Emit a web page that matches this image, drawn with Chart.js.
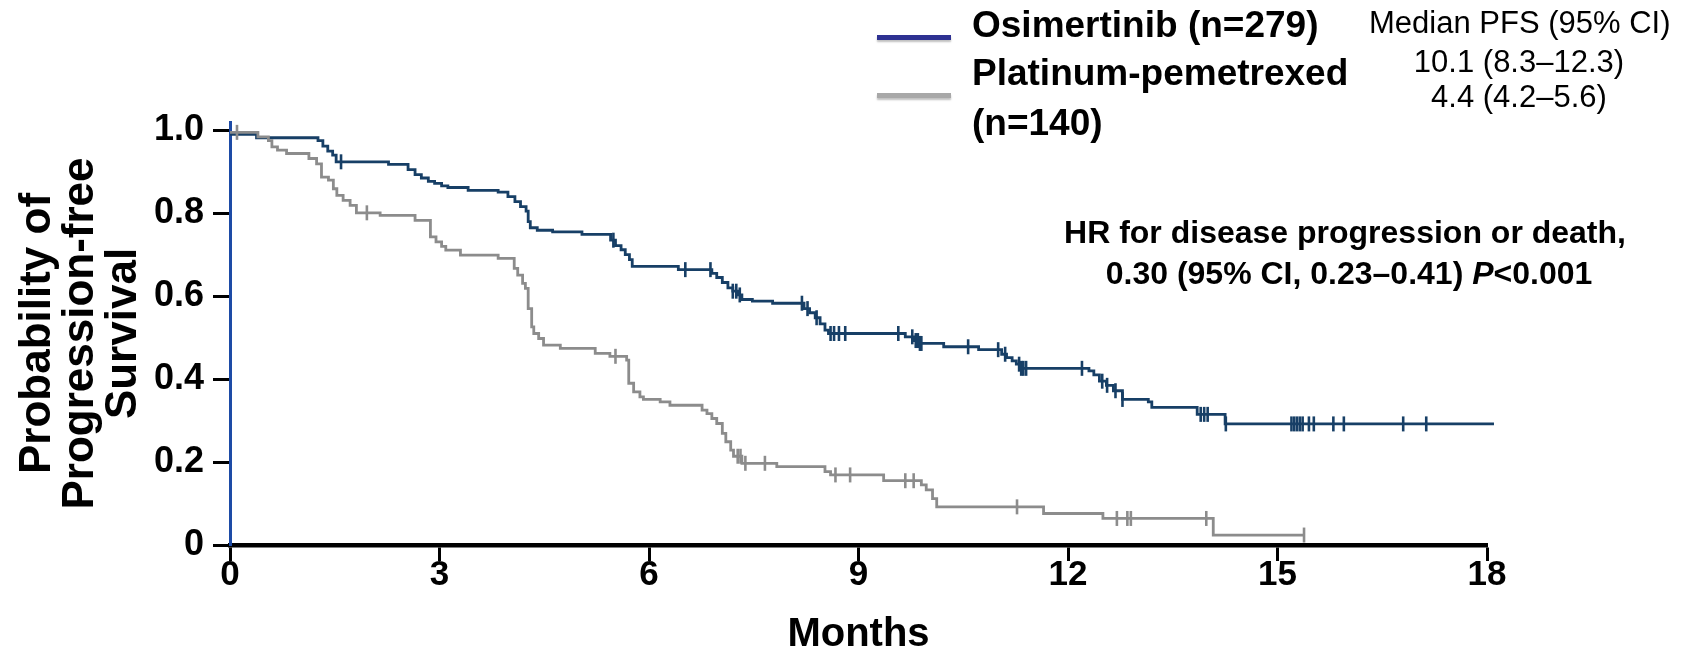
<!DOCTYPE html>
<html>
<head>
<meta charset="utf-8">
<title>PFS Kaplan-Meier</title>
<script src="https://cdn.jsdelivr.net/npm/chart.js@4/dist/chart.umd.min.js"></script>
<style>
    html, body { margin: 0; padding: 0; background: #fff; }
    #wrap { position: relative; width: 1694px; height: 657px; font-family: 'Liberation Sans', Arial, sans-serif; color: #000; }
    #kmChart { position: absolute; left: 0; top: 0; }
    .txt { position: absolute; white-space: nowrap; line-height: 1; }
    .bold { font-weight: bold; }
    .key { position: absolute; height: 5px; width: 74px; left: 877px; box-shadow: 0 2px 2px rgba(0,0,0,0.25); }
</style>
</head>
<body>
<div id="wrap">
    <canvas id="kmChart" width="1694" height="657"></canvas>

    <div class="key" style="top:35px; background:#2e3192;"></div>
    <div class="key" style="top:93px; background:#a8a8a8;"></div>
    <div class="txt bold" style="left:972px; top:6px; font-size:37px;">Osimertinib (n=279)</div>
    <div class="txt bold" style="left:972px; top:54px; font-size:37px;">Platinum-pemetrexed</div>
    <div class="txt bold" style="left:972px; top:104px; font-size:37px;">(n=140)</div>

    <div class="txt" style="left:1369px; width:300px; text-align:center; top:7px; font-size:31px;">Median PFS (95% CI)</div>
    <div class="txt" style="left:1369px; width:300px; text-align:center; top:46px; font-size:31px;">10.1 (8.3–12.3)</div>
    <div class="txt" style="left:1369px; width:300px; text-align:center; top:81px; font-size:31px;">4.4 (4.2–5.6)</div>

    <div class="txt bold" style="left:1045px; width:600px; text-align:center; top:216px; font-size:32px;">HR for disease progression or death,</div>
    <div class="txt bold" style="left:1049px; width:600px; text-align:center; top:257px; font-size:32px;">0.30 (95% CI, 0.23–0.41) <i>P</i>&lt;0.001</div>
</div>

<script>
// Osimertinib KM curve (months, probability of PFS)
const osiMonths = [0, 0.38, 1.26, 1.33, 1.40, 1.47, 1.52, 2.27, 2.55, 2.65, 2.74, 2.84, 2.93, 3.03, 3.12, 3.41,
    3.84, 3.98, 4.08, 4.16, 4.24, 4.27, 4.30, 4.40, 4.62, 5.04, 5.45, 5.52, 5.60, 5.66, 5.72, 5.76,
    6.42, 6.90, 6.97, 7.05, 7.13, 7.20, 7.27, 7.33, 7.48, 7.77, 8.22, 8.30, 8.38, 8.45, 8.52, 8.57,
    9.67, 9.80, 9.87, 10.22, 10.72, 11.05, 11.12, 11.20, 11.26, 11.32,
    12.30, 12.37, 12.45, 12.55, 12.65, 12.78, 13.15, 13.20, 13.85, 14.25, 18.1];
const osiSurv = [0.99, 0.982, 0.975, 0.962, 0.95, 0.94, 0.924, 0.918, 0.905, 0.893, 0.885, 0.877, 0.872, 0.866, 0.862, 0.855,
    0.851, 0.84, 0.828, 0.816, 0.805, 0.78, 0.765, 0.759, 0.755, 0.749, 0.735, 0.722, 0.712, 0.70, 0.688, 0.672,
    0.664, 0.655, 0.645, 0.633, 0.62, 0.612, 0.603, 0.592, 0.588, 0.583, 0.57, 0.56, 0.548, 0.533, 0.518, 0.51,
    0.502, 0.493, 0.486, 0.478, 0.471, 0.46, 0.452, 0.444, 0.436, 0.426,
    0.42, 0.41, 0.395, 0.385, 0.372, 0.351, 0.345, 0.332, 0.315, 0.292, 0.292];
const osiCensored = [1.59, 5.49, 6.52, 6.88, 7.20, 7.25, 7.30, 8.19, 8.27, 8.40, 8.60, 8.65, 8.72, 8.81,
    9.57, 9.77, 9.82, 9.85, 9.88, 9.90, 10.57, 11.00, 11.10, 11.30, 11.33, 11.36, 11.40,
    12.20, 12.49, 12.56, 12.68, 12.78, 13.90, 13.95, 14.00, 14.26,
    15.20, 15.24, 15.28, 15.32, 15.36, 15.45, 15.52, 15.80, 15.95, 16.80, 17.13];

// Platinum-pemetrexed KM curve
const platMonths = [0, 0.40, 0.55, 0.60, 0.68, 0.81, 1.13, 1.24, 1.31, 1.41, 1.48, 1.53, 1.62, 1.72, 1.81, 2.15, 2.65,
    2.87, 2.95, 3.03, 3.09, 3.30, 3.84, 4.07, 4.12, 4.19, 4.23, 4.27, 4.32, 4.35, 4.42, 4.49, 4.73, 5.23, 5.44,
    5.68, 5.71, 5.78, 5.87, 5.92, 6.16, 6.30, 6.76, 6.83, 6.90, 6.97, 7.05, 7.10, 7.17, 7.21, 7.33, 7.83,
    8.52, 8.60, 9.36, 9.90, 9.97, 10.06, 10.12, 11.65, 12.50, 14.08, 15.38];
const platSurv = [0.995, 0.984, 0.975, 0.96, 0.952, 0.944, 0.932, 0.919, 0.887, 0.88, 0.859, 0.843, 0.831, 0.819, 0.801, 0.795, 0.783,
    0.743, 0.731, 0.72, 0.711, 0.699, 0.691, 0.667, 0.651, 0.631, 0.619, 0.57, 0.526, 0.51, 0.498, 0.482, 0.474, 0.462, 0.455,
    0.446, 0.39, 0.369, 0.357, 0.351, 0.345, 0.337, 0.325, 0.317, 0.305, 0.293, 0.269, 0.249, 0.229, 0.214, 0.197, 0.189,
    0.177, 0.169, 0.155, 0.145, 0.133, 0.112, 0.092, 0.076, 0.064, 0.024, 0.024];
const platCensored = [0.10, 1.96, 5.52, 7.27, 7.31, 7.38, 7.66, 8.67, 8.88, 9.67, 9.79, 11.27,
    12.70, 12.85, 12.90, 13.98, 15.38];

const monthTicks = [0, 3, 6, 9, 12, 15, 18];
const survTicks = [0, 0.2, 0.4, 0.6, 0.8, 1.0];

const osiColor = '#173f66';
const platColor = '#8c8c8c';
const fontFamily = "'Liberation Sans', Arial, sans-serif";

// survival value of the step curve at time t
function survivalAt(months, surv, t) {
    let s = surv[0];
    for (let i = 0; i < months.length; i++) {
        if (months[i] <= t) s = surv[i];
    }
    return s;
}

function toPoints(months, surv) {
    return months.map((m, i) => ({ x: m, y: surv[i] }));
}

function censorPoints(months, surv, censored) {
    return censored.map(t => ({ x: t, y: survivalAt(months, surv, t) }));
}

document.addEventListener('DOMContentLoaded', () => {
    const ctx = document.getElementById('kmChart').getContext('2d');

    const curve = (data, color) => ({
        data: data,
        borderColor: color,
        borderWidth: 2.8,
        stepped: true,
        pointRadius: 0,
        fill: false,
        clip: { left: 5, top: 10, right: 15, bottom: 5 }
    });
    const ticksOf = (data, color) => ({
        data: data,
        showLine: false,
        borderColor: color,
        backgroundColor: color,
        borderWidth: 2.6,
        pointStyle: 'line',
        rotation: 90,
        pointRadius: 7.5,
        clip: false
    });

    new Chart(ctx, {
        type: 'line',
        data: {
            datasets: [
                curve(toPoints(platMonths, platSurv), platColor),
                ticksOf(censorPoints(platMonths, platSurv, platCensored), platColor),
                curve(toPoints(osiMonths, osiSurv), osiColor),
                ticksOf(censorPoints(osiMonths, osiSurv, osiCensored), osiColor)
            ]
        },
        options: {
            responsive: false,
            animation: false,
            devicePixelRatio: 1,
            layout: { padding: { top: 122, right: 207, bottom: 0, left: 0 } },
            plugins: { legend: { display: false }, tooltip: { enabled: false } },
            scales: {
                x: {
                    type: 'linear',
                    min: 0,
                    max: 18,
                    afterBuildTicks: scale => { scale.ticks = monthTicks.map(v => ({ value: v })); },
                    afterFit: scale => { scale.height = 112; },
                    ticks: {
                        color: '#000',
                        padding: -3,
                        maxRotation: 0,
                        font: { family: fontFamily, size: 35, weight: 'bold', lineHeight: 1 }
                    },
                    grid: { drawOnChartArea: false, drawTicks: true, tickLength: 16, tickWidth: 3, tickColor: '#000' },
                    border: { color: '#000', width: 4.5 },
                    title: {
                        display: true,
                        text: 'Months',
                        color: '#000',
                        padding: { top: 0, bottom: -2 },
                        font: { family: fontFamily, size: 40, weight: 'bold', lineHeight: 1.2 }
                    }
                },
                y: {
                    type: 'linear',
                    min: 0,
                    max: 1.02,
                    afterBuildTicks: scale => { scale.ticks = survTicks.map(v => ({ value: v })); },
                    afterFit: scale => { scale.width = 230; scale.paddingTop = 0; },
                    ticks: {
                        color: '#000',
                        padding: 9,
                        font: { family: fontFamily, size: 36, weight: 'bold' },
                        callback: v => v === 0 ? '0' : v.toFixed(1)
                    },
                    grid: { drawOnChartArea: false, drawTicks: true, tickLength: 17, tickWidth: 3, tickColor: '#000' },
                    border: { color: '#1d4ba6', width: 3 },
                    title: {
                        display: true,
                        text: ['Probability of', 'Progression-free', 'Survival'],
                        color: '#000',
                        padding: { top: 16, bottom: 0 },
                        font: { family: fontFamily, size: 44, weight: 'bold', lineHeight: 0.98 }
                    }
                }
            }
        }
    });
});
</script>
</body>
</html>
